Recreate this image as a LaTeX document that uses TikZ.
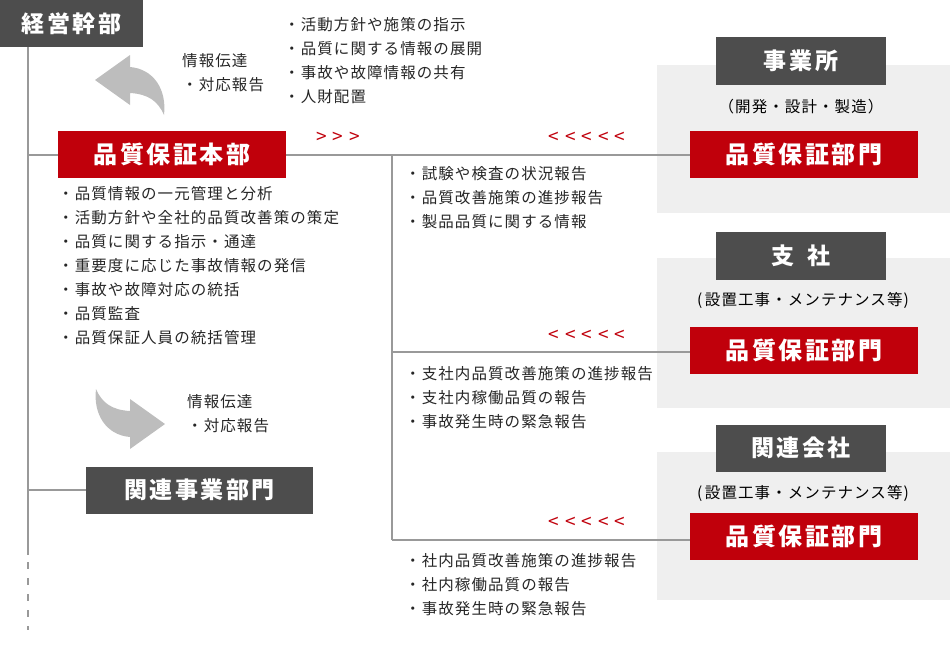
\documentclass[tikz,border=0pt]{standalone}
\usepackage{fontspec}
\setmainfont{Noto Sans CJK JP}
\newfontfamily\listfont[LetterSpace=7]{Noto Sans CJK JP}
\newfontfamily\titlefont[LetterSpace=11]{Noto Sans CJK JP}
\usetikzlibrary{arrows.meta,positioning}
\definecolor{qred}{HTML}{C0000B}
\definecolor{qdark}{HTML}{4D4D4D}
\definecolor{qpanel}{HTML}{EFEFEF}
\definecolor{qline}{HTML}{999999}
\definecolor{qarrow}{HTML}{BDBDBD}
\newcommand{\curlyarrow}{(95,80) -- (130,55) -- (130,67) .. controls (154,69) and (167,90) .. (164,115) .. controls (158,101) and (148,94) .. (130,93) -- (130,105) -- cycle}

\begin{document}
\begin{tikzpicture}[x=1pt,y=-1pt]
    \tikzstyle{head}=[fill=qdark,text=white,font=\titlefont\fontsize{23}{23}\selectfont\bfseries,inner sep=0pt]
    \tikzstyle{qa}=[fill=qred,text=white,font=\titlefont\fontsize{24}{24}\selectfont\bfseries,inner sep=0pt,minimum width=228pt,minimum height=47pt]
    \tikzstyle{list}=[anchor=north west,align=left,inner sep=0pt,font=\listfont\fontsize{15.5}{24}\selectfont,text=black!85]
    \tikzstyle{sub}=[inner sep=0pt,font=\listfont\fontsize{15.5}{15.5}\selectfont]
    \tikzstyle{link}=[qline,line width=2pt]
    \tikzstyle{chev}=[text=qred,inner sep=0pt,font=\fontsize{19}{19}\selectfont]

    \useasboundingbox (0,0) rectangle (950,646);

    % right panels
    \fill[qpanel] (657,65) rectangle (950,213);
    \fill[qpanel] (657,258) rectangle (950,408);
    \fill[qpanel] (657,452) rectangle (950,600);

    % connectors
    \draw[link] (28,47) -- (28,555);
    \draw[link,dash pattern=on 7pt off 9pt] (28,562) -- (28,630);
    \draw[link] (28,155) -- (58,155);
    \draw[link] (28,490) -- (86,490);
    \draw[link] (286,155) -- (690,155);
    \draw[link] (392,155) -- (392,540);
    \draw[link] (392,352) -- (690,352);
    \draw[link] (392,540) -- (690,540);

    % left column
    \node[head,minimum width=143pt,minimum height=47pt] (exec) at (71.5,23.5) {経営幹部};
    \node[qa] (hq) at (172,154) {品質保証本部};
    \node[head,minimum width=227pt,minimum height=47pt] (rel) at (199.5,490) {関連事業部門};

    \fill[qarrow] \curlyarrow;
    \begin{scope}[shift={(260,504)},xscale=-1,yscale=-1]
        \fill[qarrow] \curlyarrow;
    \end{scope}
    \node[list] (upnote) at (182,53) {情報伝達\\・対応報告};
    \node[list] (downnote) at (187,394) {情報伝達\\・対応報告};

    \node[list] (order) at (284,17) {・活動方針や施策の指示\\・品質に関する情報の展開\\・事故や故障情報の共有\\・人財配置};
    \node[list] (role) at (58,186) {・品質情報の一元管理と分析\\・活動方針や全社的品質改善策の策定\\・品質に関する指示・通達\\・重要度に応じた事故情報の発信\\・事故や故障対応の統括\\・品質監査\\・品質保証人員の統括管理};

    \node[chev] (out) at (338,138) {>\hspace{6pt}>\hspace{6pt}>};
    \node[chev] (in1) at (587,138) {<\hspace{6pt}<\hspace{6pt}<\hspace{6pt}<\hspace{6pt}<};
    \node[chev] (in2) at (587,336) {<\hspace{6pt}<\hspace{6pt}<\hspace{6pt}<\hspace{6pt}<};
    \node[chev] (in3) at (587,523) {<\hspace{6pt}<\hspace{6pt}<\hspace{6pt}<\hspace{6pt}<};

    % right column
    \node[head,minimum width=170pt,minimum height=48pt] (site) at (801,61) {事業所};
    \node[sub] (sitesub) at (801,107) {（開発・設計・製造）};
    \node[qa] (qa1) at (804,154) {品質保証部門};
    \node[list] (rep1) at (405,166) {・試験や検査の状況報告\\・品質改善施策の進捗報告\\・製品品質に関する情報};

    \node[head,minimum width=170pt,minimum height=48pt] (branch) at (801,256) {支\hspace{0.6em}社};
    \node[sub] (branchsub) at (803,300) {(\,設置工事・メンテナンス等)};
    \node[qa] (qa2) at (804,350) {品質保証部門};
    \node[list] (rep2) at (405,366) {・支社内品質改善施策の進捗報告\\・支社内稼働品質の報告\\・事故発生時の緊急報告};

    \node[head,minimum width=170pt,minimum height=47pt] (group) at (801,448) {関連会社};
    \node[sub] (groupsub) at (803,493) {(\,設置工事・メンテナンス等)};
    \node[qa] (qa3) at (804,536) {品質保証部門};
    \node[list] (rep3) at (405,553) {・社内品質改善施策の進捗報告\\・社内稼働品質の報告\\・事故発生時の緊急報告};
\end{tikzpicture}
\end{document}
